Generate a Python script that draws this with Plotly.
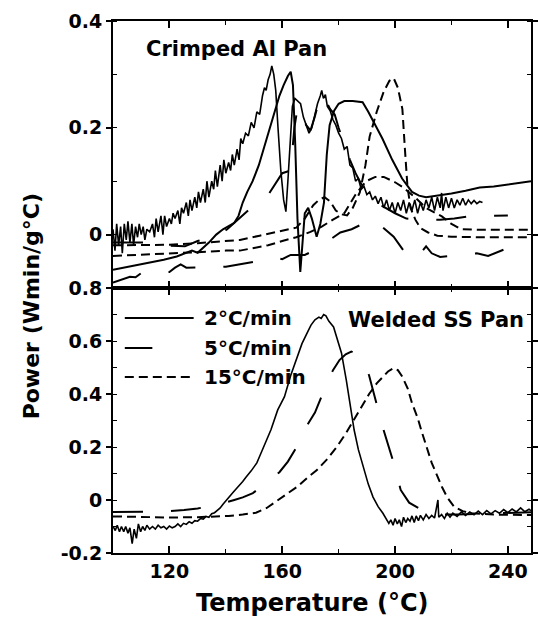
import plotly.graph_objects as go
from plotly.subplots import make_subplots

# ---------------- data (Temperature °C, Power W min / g °C) ----------------
# Top panel: Crimped Al Pan
top_2c_run1 = [(100,0.01),(100.7,-0.03),(101.3,0.02),(102,-0.02),(102.7,0.015),(103.3,-0.035),(104,0.02),(104.7,-0.01),
    (105.3,0.025),(106,-0.015),(106.7,0.02),(107.3,-0.02),(108,0.015),(108.7,-0.005),(109.3,0.02),(110,0.0),(110.7,0.015),
    (111.3,-0.01),(112,0.01),(113,0.005),(114,0.02),(114.7,-0.005),(115.3,0.03),(116,0.005),(117,0.035),(117.7,0.0),
    (118.3,0.035),(119,0.015),(120,0.03),(120.7,0.02),(121.3,0.04),(122,0.03),(123,0.045),(123.7,0.02),(124.3,0.05),
    (125,0.04),(126,0.06),(126.7,0.035),(127.3,0.065),(128,0.045),(129,0.07),(129.7,0.05),(130.3,0.08),(131,0.06),
    (132,0.085),(132.7,0.06),(133.3,0.1),(134,0.07),(135,0.1),(135.7,0.085),(136.3,0.12),(137,0.09),(138,0.13),
    (138.7,0.1),(139.3,0.14),(140,0.115),(141,0.135),(141.7,0.12),(142.3,0.15),(143,0.13),(144,0.16),(144.7,0.14),
    (145.3,0.18),(146,0.17),(147,0.19),(148,0.185),(149,0.21),(150,0.2),(151,0.23),(152,0.225),(153,0.26),(153.7,0.275),
    (154.3,0.27),(155,0.29),(155.7,0.3),(156.3,0.316),(157,0.3),(157.7,0.27),(158.5,0.2),(159.5,0.12),(160.5,0.065),
    (161.3,0.043),(162,0.1),(162.8,0.18),(163.6,0.24),(164.5,0.255),(165.5,0.25),(166.5,0.245),(167.5,0.22),(168.5,0.205),
    (169.5,0.19),(170.5,0.2),(171.5,0.225),(172.5,0.245),(173.5,0.26),(174,0.27),(174.6,0.255),(175.3,0.262),(176,0.24),
    (177,0.232),(178,0.215),(179,0.205),(180,0.19),(181,0.18),(182,0.16),(183,0.165),(184,0.13),(185,0.125),(186,0.1),
    (187,0.105),(188,0.085),(189,0.09),(190,0.075),(191,0.08),(192,0.065),(193,0.072),(194,0.058),(195,0.07),(196,0.05),
    (197,0.065),(198,0.045),(199,0.06),(200,0.04),(201,0.06),(202,0.045),(203,0.065),(204,0.04),(205,0.06),(206,0.045),
    (207,0.065),(208,0.04),(209,0.06),(210,0.045),(211,0.065),(212,0.05),(213,0.07),(214,0.045),(215,0.07),(216,0.05),
    (216.5,0.078),(217,0.045),(218,0.07),(219,0.05),(220,0.068),(221,0.05),(222,0.065),(223,0.055),(224,0.068),
    (225,0.055),(226,0.065),(227,0.058),(228,0.064),(229,0.058),(230,0.062),(231,0.06)]

top_2c_run2 = [(100,-0.066),(106,-0.06),(113,-0.053),(118,-0.047),(122.6,-0.041),(126,-0.035),(128,-0.03),(130,-0.034),
    (132,-0.025),(134,-0.015),(136.6,0.0),(139,0.01),(141,0.016),(143,0.022),(144.5,0.035),(146,0.06),(147.6,0.08),
    (149.5,0.1),(151.7,0.13),(153.4,0.16),(155.5,0.2),(157.5,0.235),(159,0.26),(160.5,0.28),(162,0.297),(163,0.305),
    (163.8,0.28),(164.6,0.17),(165.4,0.03),(166.4,-0.07),(167.2,-0.005),(168,0.04),(169.2,0.05),(170.5,0.03),
    (172.2,-0.004),(173.5,0.02),(174.8,0.06),(175.8,0.15),(176.8,0.205),(178.4,0.232),(180,0.245),(182,0.25),(185,0.25),
    (188.5,0.248),(190.5,0.23),(192.5,0.21),(195.5,0.18),(199,0.14),(202.5,0.105),(206,0.08),(208.5,0.073),(211,0.07),
    (215,0.073),(220,0.077),(225,0.082),(230,0.088),(235,0.09),(240,0.094),(244,0.098),(248.2,0.1)]

top_5c_run1 = [(100,-0.09),(103,-0.085),(106,-0.079),(108,-0.08),(110,-0.072),(114,-0.07),(118,-0.07),(120,-0.07),
    (122,-0.062),(124,-0.056),(126,-0.062),(129,-0.062),(133,-0.062),(137,-0.061),(140,-0.06),(144,-0.056),(147.6,-0.053),
    (151,-0.05),(154,-0.048),(157.5,-0.043),(160,-0.046),(163,-0.038),(168,-0.038),(172,-0.028),(176,-0.013),(180.6,0.004),
    (184.6,0.01),(188.5,0.02),(192.5,0.028),(196,0.012),(199.5,-0.004),(203,-0.03),(207,-0.047),(209,-0.035),(211,-0.022),
    (213,-0.035),(216,-0.042),(220,-0.04),(224,-0.037),(229,-0.035),(233,-0.04),(238.6,-0.028),(243,-0.033),(248.2,-0.032)]

top_5c_run2 = [(100,-0.015),(112,-0.015),(118,-0.02),(125.5,-0.022),(130,-0.012),(136.6,-0.002),(140.5,0.01),(145.7,0.035),
    (150,0.055),(154.5,0.07),(157,0.09),(160,0.115),(163,0.12),(164.3,0.2),(165.5,0.24),(167,0.225),(168.5,0.205),
    (170,0.195),(171.5,0.22),(173,0.25),(174,0.262),(175.5,0.25),(177,0.235),(178.6,0.225),(180,0.2),(182,0.17),(184,0.14),
    (186,0.115),(188,0.095),(191,0.075),(195,0.055),(200,0.04),(204,0.03),(210,0.028),(216,0.028),(221,0.03),(226,0.034),
    (233,0.035),(240,0.036)]

top_15c_run1 = [(100,-0.02),(110,-0.02),(120,-0.019),(130,-0.016),(140,-0.012),(145,-0.01),(152,-0.002),(158,0.005),
    (165,0.013),(168,0.03),(171,0.055),(173,0.065),(175,0.07),(177,0.062),(179,0.045),(181,0.038),(183,0.036),(185,0.05),
    (187.5,0.079),(189.5,0.13),(191,0.184),(193.5,0.23),(196,0.268),(198,0.288),(199.5,0.293),(201,0.275),(202.6,0.235),
    (203.5,0.16),(204.4,0.09),(205.5,0.05),(207.2,0.028),(209,0.012),(211.7,0.004),(215,-0.002),(220,-0.004),(230,-0.005),
    (248.2,-0.005)]

top_15c_run2 = [(100,-0.04),(110,-0.038),(120,-0.036),(130,-0.033),(140,-0.03),(145,-0.03),(150,-0.025),(155,-0.02),
    (160,-0.012),(165,-0.005),(170,0.005),(174,0.015),(178,0.028),(182,0.04),(186,0.075),(189.7,0.1),(193,0.108),
    (196,0.108),(200,0.098),(203,0.088),(207,0.07),(211,0.05),(216.6,0.034),(220,0.02),(223.5,0.01),(230,0.009),(248.2,0.009)]

# Bottom panel: Welded SS Pan
bot_2c = [(100,-0.1),(100.8,-0.115),(101.5,-0.095),(102.3,-0.12),(103,-0.1),(103.8,-0.12),(104.5,-0.1),(105.3,-0.125),
    (106,-0.105),(106.8,-0.165),(107.5,-0.11),(108.3,-0.145),(109,-0.09),(109.8,-0.12),(110.5,-0.1),(111.3,-0.115),
    (112,-0.095),(113,-0.11),(114,-0.1),(115,-0.11),(116,-0.095),(117,-0.105),(118,-0.1),(119,-0.11),(120,-0.098),
    (121,-0.105),(122,-0.1),(123,-0.09),(124,-0.1),(125,-0.088),(126,-0.092),(127,-0.082),(128,-0.088),(129,-0.078),
    (130,-0.08),(131,-0.07),(132,-0.072),(133,-0.062),(134,-0.065),(135,-0.052),(136,-0.048),(137,-0.04),(138,-0.03),
    (139,-0.016),(140,-0.002),(141,0.01),(142,0.022),(143,0.034),(144,0.045),(145,0.058),(146,0.07),(147,0.084),
    (148,0.096),(149,0.11),(150,0.125),(151,0.14),(152,0.165),(154,0.215),(156,0.265),(158.4,0.34),(160.8,0.39),(163,0.47),
    (165.3,0.54),(167,0.59),(168.8,0.63),(170.2,0.66),(171.6,0.68),(173,0.69),(173.8,0.685),(174.7,0.70),(175.5,0.695),
    (176.5,0.675),(178.2,0.653),(179.5,0.61),(181,0.555),(182.7,0.453),(184,0.36),(185.5,0.264),(187,0.19),(188.7,0.125),
    (190.5,0.06),(192.2,0.011),(194,-0.025),(195.7,-0.05),(196.8,-0.07),(197.8,-0.088),(198.5,-0.075),(199.3,-0.095),
    (200,-0.07),(200.8,-0.09),(201.5,-0.075),(202.3,-0.1),(203,-0.065),(203.8,-0.085),(204.5,-0.07),(205.3,-0.08),
    (206,-0.06),(206.8,-0.085),(207.5,-0.06),(208.3,-0.078),(209,-0.058),(210,-0.075),(211,-0.055),(212,-0.07),
    (213,-0.058),(214,-0.068),(215.2,0.0),(215.5,-0.065),(216.5,-0.055),(217.5,-0.07),(218.5,-0.05),(219.5,-0.065),
    (220.5,-0.05),(222,-0.062),(223.5,-0.045),(225,-0.058),(226.5,-0.045),(228,-0.056),(229.5,-0.042),(231,-0.055),
    (232.5,-0.04),(234,-0.052),(235.5,-0.04),(237,-0.05),(238.5,-0.036),(240,-0.048),(241.5,-0.034),(243,-0.045),
    (244.5,-0.03),(246,-0.044),(247.5,-0.035),(248.2,-0.04)]

bot_5c = [(100,-0.045),(110,-0.045),(118,-0.044),(125.2,-0.038),(130,-0.032),(135,-0.022),(139.2,-0.012),(143,0.0),
    (146,0.01),(149.6,0.026),(152,0.045),(155,0.07),(159,0.105),(162,0.145),(166,0.215),(169,0.285),(171.6,0.33),
    (173.8,0.39),(175.8,0.44),(178,0.49),(180.3,0.528),(182.5,0.55),(184.5,0.56),(186.5,0.55),(189,0.517),(190.8,0.47),
    (192.5,0.404),(195.7,0.272),(199.2,0.151),(202,0.038),(205,-0.01),(209.6,-0.038),(213,-0.05),(217,-0.055),
    (222,-0.055),(230,-0.052),(240,-0.048),(248.2,-0.046)]

bot_15c = [(100,-0.062),(110,-0.065),(120,-0.066),(130,-0.065),(136,-0.063),(141,-0.06),(146,-0.055),(150.7,-0.048),
    (154.5,-0.03),(158.4,0.0),(162,0.025),(165.3,0.05),(169,0.085),(172.3,0.113),(176,0.155),(179.3,0.2),(182.5,0.25),
    (185.2,0.3),(188,0.35),(190.8,0.40),(193.5,0.44),(195.7,0.465),(197.5,0.485),(199.5,0.498),(201,0.49),(202.6,0.465),
    (204.5,0.42),(206,0.366),(208,0.31),(209.6,0.253),(211.5,0.19),(213,0.14),(215,0.09),(216.6,0.05),(218.5,0.01),
    (221,-0.026),(224,-0.042),(227,-0.05),(235,-0.055),(248.2,-0.057)]

x_ticks = [120, 160, 200, 240]
top_y_ticks = [0, 0.2, 0.4]
top_y_text = ["0", "0.2", "0.4"]
bot_y_ticks = [-0.2, 0, 0.2, 0.4, 0.6, 0.8]
bot_y_text = ["-0.2", "0", "0.2", "0.4", "0.6", "0.8"]
legend_labels = ["2°C/min", "5°C/min", "15°C/min"]

# ---------------- styles ----------------
FONT = "DejaVu Sans"
SOLID = "solid"
LONG = "30px,28px"
SHORT = "9px,5px"

fig = make_subplots(rows=2, cols=1, shared_xaxes=True, vertical_spacing=0)

def add(series, dash, row, width=2.0):
    t = [p[0] for p in series]
    v = [p[1] for p in series]
    fig.add_trace(go.Scatter(x=t, y=v, mode="lines", showlegend=False, hoverinfo="skip",
                             line=dict(color="black", width=width, dash=dash)), row=row, col=1)

add(top_2c_run1, SOLID, 1, 1.6)
add(top_2c_run2, SOLID, 1)
add(top_5c_run1, LONG, 1)
add(top_5c_run2, LONG, 1)
add(top_15c_run1, SHORT, 1)
add(top_15c_run2, SHORT, 1)
add(bot_2c, SOLID, 2, 1.6)
add(bot_5c, LONG, 2)
add(bot_15c, SHORT, 2)

W, H = 538, 617
ML, MR, MT, MB = 113, 0, 21, 64
pw, ph = W - ML - MR, H - MT - MB
split = (553 - 288) / ph

def px_x(x):
    return (x - ML) / pw

def px_y(y):
    return (H - MB - y) / ph

xcommon = dict(range=[100, 248.2], tickvals=x_ticks, ticks="inside", ticklen=7, tickwidth=1.5,
               tickcolor="black", showline=True, linewidth=2, linecolor="black", mirror="ticks",
               showgrid=False, zeroline=False,
               minor=dict(ticks="inside", ticklen=4, tickwidth=1.2, tickcolor="black", tick0=100, dtick=20))
ycommon = dict(ticks="outside", ticklen=5, tickwidth=1.5, tickcolor="black", showline=True, linewidth=2,
               linecolor="black", mirror="ticks", showgrid=False, zeroline=False,
               minor=dict(ticks="inside", ticklen=4, tickwidth=1.2, tickcolor="black", dtick=0.1))

fig.update_layout(
    width=W, height=H, margin=dict(l=ML, r=MR, t=MT, b=MB),
    paper_bgcolor="white", plot_bgcolor="white",
    font=dict(family=FONT, size=19, color="black", weight="bold"),
    xaxis=dict(**xcommon, domain=[0, 1], showticklabels=False),
    xaxis2=dict(**xcommon, domain=[0, 1], showticklabels=True,
                tickfont=dict(family=FONT, size=19, color="black", weight="bold")),
    yaxis=dict(**ycommon, domain=[split, 1], range=[-0.1, 0.4], tickvals=top_y_ticks, ticktext=top_y_text,
               tickfont=dict(family=FONT, size=19, color="black", weight="bold")),
    yaxis2=dict(**ycommon, domain=[0, split], range=[-0.2, 0.8], tickvals=bot_y_ticks, ticktext=bot_y_text,
                tickfont=dict(family=FONT, size=19, color="black", weight="bold")),
)

ann_font = dict(family=FONT, color="black", weight="bold")
annotations = [
    dict(text="Crimped Al Pan", x=px_x(145), y=px_y(49), xanchor="left", yanchor="middle",
         font=dict(size=21, **ann_font)),
    dict(text="Welded SS Pan", x=px_x(350), y=px_y(320), xanchor="left", yanchor="middle",
         font=dict(size=21, **ann_font)),
    dict(text="Temperature (°C)", x=px_x(316), y=px_y(603), xanchor="center", yanchor="middle",
         font=dict(size=24, **ann_font)),
    dict(text="Power (Wmin/g°C)", x=px_x(30), y=px_y(306), xanchor="center", yanchor="middle",
         textangle=-90, font=dict(size=22, **ann_font)),
]
legend_y = [318, 348, 377]
legend_x1 = [195, 153, 195]
legend_dash = ["solid", "dash", "dash"]
legend_dash_pattern = [None, None, SHORT]
shapes = []
for lab, ly, lx1, dsh in zip(legend_labels, legend_y, legend_x1, [SOLID, SOLID, SHORT]):
    annotations.append(dict(text=lab, x=px_x(203), y=px_y(ly), xanchor="left", yanchor="middle",
                            font=dict(size=20, **ann_font)))
    shapes.append(dict(type="line", xref="paper", yref="paper", x0=px_x(125), x1=px_x(lx1),
                       y0=px_y(ly), y1=px_y(ly), line=dict(color="black", width=2, dash=dsh)))
for a in annotations:
    a.update(xref="paper", yref="paper", showarrow=False)
fig.update_layout(annotations=annotations, shapes=shapes)

fig.write_html("out.html")
